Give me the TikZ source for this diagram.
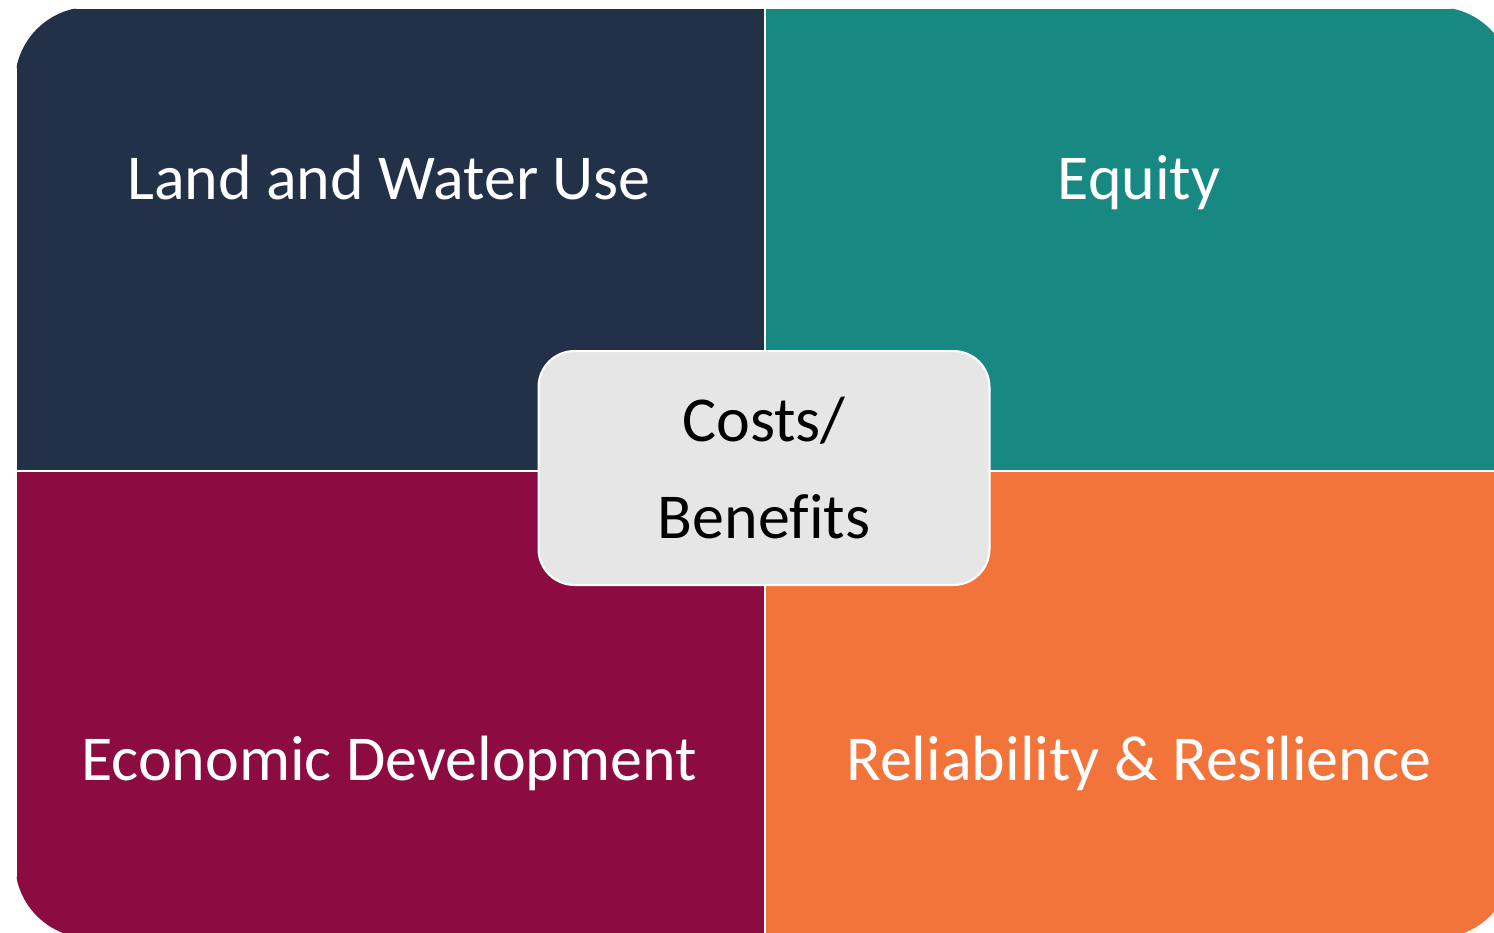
\documentclass[tikz,border=0pt]{standalone}
\usepackage{fontspec}
\setmainfont[Ligatures=NoCommon]{Carlito}
\usetikzlibrary{positioning}

\definecolor{navy}{RGB}{34,49,71}
\definecolor{teal}{RGB}{24,136,131}
\definecolor{wine}{RGB}{140,12,66}
\definecolor{orange}{RGB}{242,116,59}
\definecolor{panel}{RGB}{230,230,230}

\begin{document}
\begin{tikzpicture}[x=1pt, y=-1pt,
    quad/.style={rectangle, inner sep=0pt, draw=white, line width=1.5pt, anchor=north west},
    label/.style={text=white, font=\fontsize{64}{64}\selectfont, inner sep=0pt, anchor=base}]
        \useasboundingbox (0,0) rectangle (1494,932);
        \fill[white] (0,0) rectangle (1494,932);

        % four quadrants, clipped to the outer rounded frame
        \begin{scope}
            \clip[rounded corners=75pt] (15,7) rectangle (1512,938);
            \node[quad, fill=navy, minimum width=749pt, minimum height=463pt] (land) at (15,7) {};
            \node[quad, fill=teal, minimum width=748pt, minimum height=463pt] (equity) at (764,7) {};
            \node[quad, fill=wine, minimum width=749pt, minimum height=470pt] (econ) at (15,470) {};
            \node[quad, fill=orange, minimum width=748pt, minimum height=470pt] (rel) at (764,470) {};
        \end{scope}

        \node[label] (landtxt) at (389,199) {Land and Water Use};
        \node[label] (equitytxt) at (1139,199) {Equity};
        \node[label] (econtxt) at (389,780) {Economic Development};
        \node[label] (reltxt) at (1139,780) {Reliability \& Resilience};

        % centre box
        \node[rectangle, rounded corners=36pt, fill=panel, draw=white, line width=2pt,
              minimum width=451pt, minimum height=234pt, align=center,
              font=\fontsize{64}{97}\selectfont] (cost) at (764,468) {Costs/\\Benefits};
\end{tikzpicture}
\end{document}
